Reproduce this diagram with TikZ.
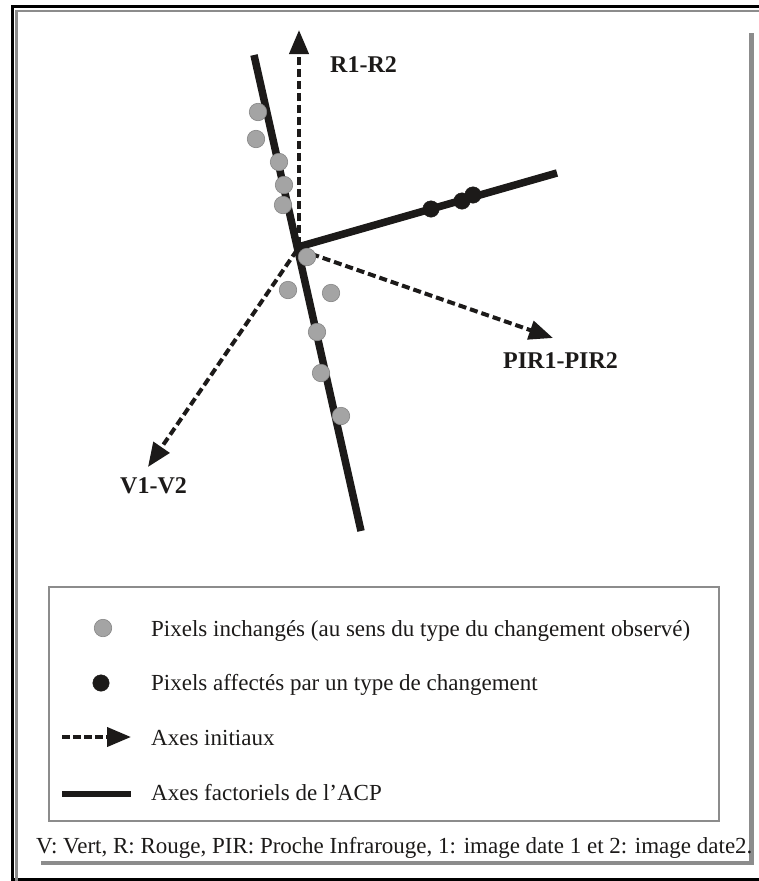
\documentclass[tikz,border=0pt]{standalone}
\usepackage{fontspec}
\setmainfont{Liberation Serif}
\usetikzlibrary{arrows.meta}
\definecolor{ink}{HTML}{1C1A19}
\definecolor{dotfill}{HTML}{A4A4A4}
\definecolor{dotline}{HTML}{858585}
\definecolor{framegray}{HTML}{8C8C8C}
\begin{document}
\begin{tikzpicture}[x=1pt,y=-1pt,
  factax/.style={ink,line width=7.5pt,line cap=butt},
  initax/.style={ink,line width=4pt,dash pattern=on 8pt off 4pt,
     -{Triangle[length=24pt,width=19pt]}},
  gdot/.style={circle,fill=dotfill,draw=dotline,line width=0.6pt,minimum size=17.5pt,inner sep=0pt},
  bdot/.style={circle,fill=ink,draw=ink,minimum size=16.5pt,inner sep=0pt},
  axlabel/.style={anchor=base west,inner sep=0pt,text=ink,font=\fontsize{24}{28}\selectfont\bfseries},
  legtext/.style={anchor=base west,inner sep=0pt,text=ink,font=\fontsize{23}{27}\selectfont}]
\useasboundingbox (0,0) rectangle (759,881);
% outer frame
\draw[black,line width=3pt] (775,879) -- (12,879) -- (12,6) -- (775,6);
\draw[framegray,line width=2.2pt] (16.5,881) -- (16.5,11) -- (775,11);
% shadow
\draw[framegray,line width=5pt] (751.5,33) -- (751.5,865);
\draw[framegray,line width=4.5pt] (41,863) -- (754,863);
% axes geometry
\coordinate (O) at (298,247);
\coordinate (Ov) at (297,250);
\coordinate (Op) at (300,250);
\coordinate (Rs) at (299,245);
\coordinate (Rtip) at (299,30);
\coordinate (Ptip) at (553,338);
\coordinate (Vtip) at (148,467);
\coordinate (F1a) at (254,55);
\coordinate (F1b) at (361,531);
\coordinate (F2b) at (557,173);
% initial axes
\draw[initax] (Rs) -- (Rtip);
\draw[initax] (Op) -- (Ptip);
\draw[initax] (Ov) -- (Vtip);
% factorial axes
\draw[factax] (F1a) -- (F1b);
\draw[factax] (O) -- (F2b);
% unchanged pixels
\node[gdot] (g1) at (258,112) {};
\node[gdot] (g2) at (256,139) {};
\node[gdot] (g3) at (279,162) {};
\node[gdot] (g4) at (284,185) {};
\node[gdot] (g5) at (283,205) {};
\node[gdot] (g6) at (307,257) {};
\node[gdot] (g7) at (288,290) {};
\node[gdot] (g8) at (331,293) {};
\node[gdot] (g9) at (317,332) {};
\node[gdot] (g10) at (321,373) {};
\node[gdot] (g11) at (341,416) {};
% changed pixels
\node[bdot] (b1) at (431,209) {};
\node[bdot] (b2) at (462,201) {};
\node[bdot] (b3) at (473,195) {};
% labels
\node[axlabel] (lR) at (330,72) {R1-R2};
\node[axlabel] (lP) at (503,368) {PIR1-PIR2};
\node[axlabel] (lV) at (120,493) {V1-V2};
% legend
\draw[framegray,line width=1.4pt] (49,587) rectangle (719,821);
\node[gdot] (kg) at (103,628) {};
\node[bdot] (kb) at (101,683) {};
\coordinate (ka1) at (62,737);
\coordinate (ka2) at (131,737);
\draw[initax,dash pattern=on 8pt off 3pt] (ka1) -- (ka2);
\coordinate (kf1) at (62,794);
\coordinate (kf2) at (131,794);
\draw[factax,line width=6.5pt] (kf1) -- (kf2);
\node[legtext] (t1) at (151,636) {Pixels inchangés (au sens du type du changement observé)};
\node[legtext] (t2) at (151,690) {Pixels affectés par un type de changement};
\node[legtext] (t3) at (151,745) {Axes initiaux};
\node[legtext] (t4) at (151,800) {Axes factoriels de l’ACP};
% footnote
\node[legtext] (foot) at (36,853) {V: Vert, R: Rouge, PIR: Proche Infrarouge, 1: image date 1 et 2: image date2.};
\end{tikzpicture}
\end{document}
